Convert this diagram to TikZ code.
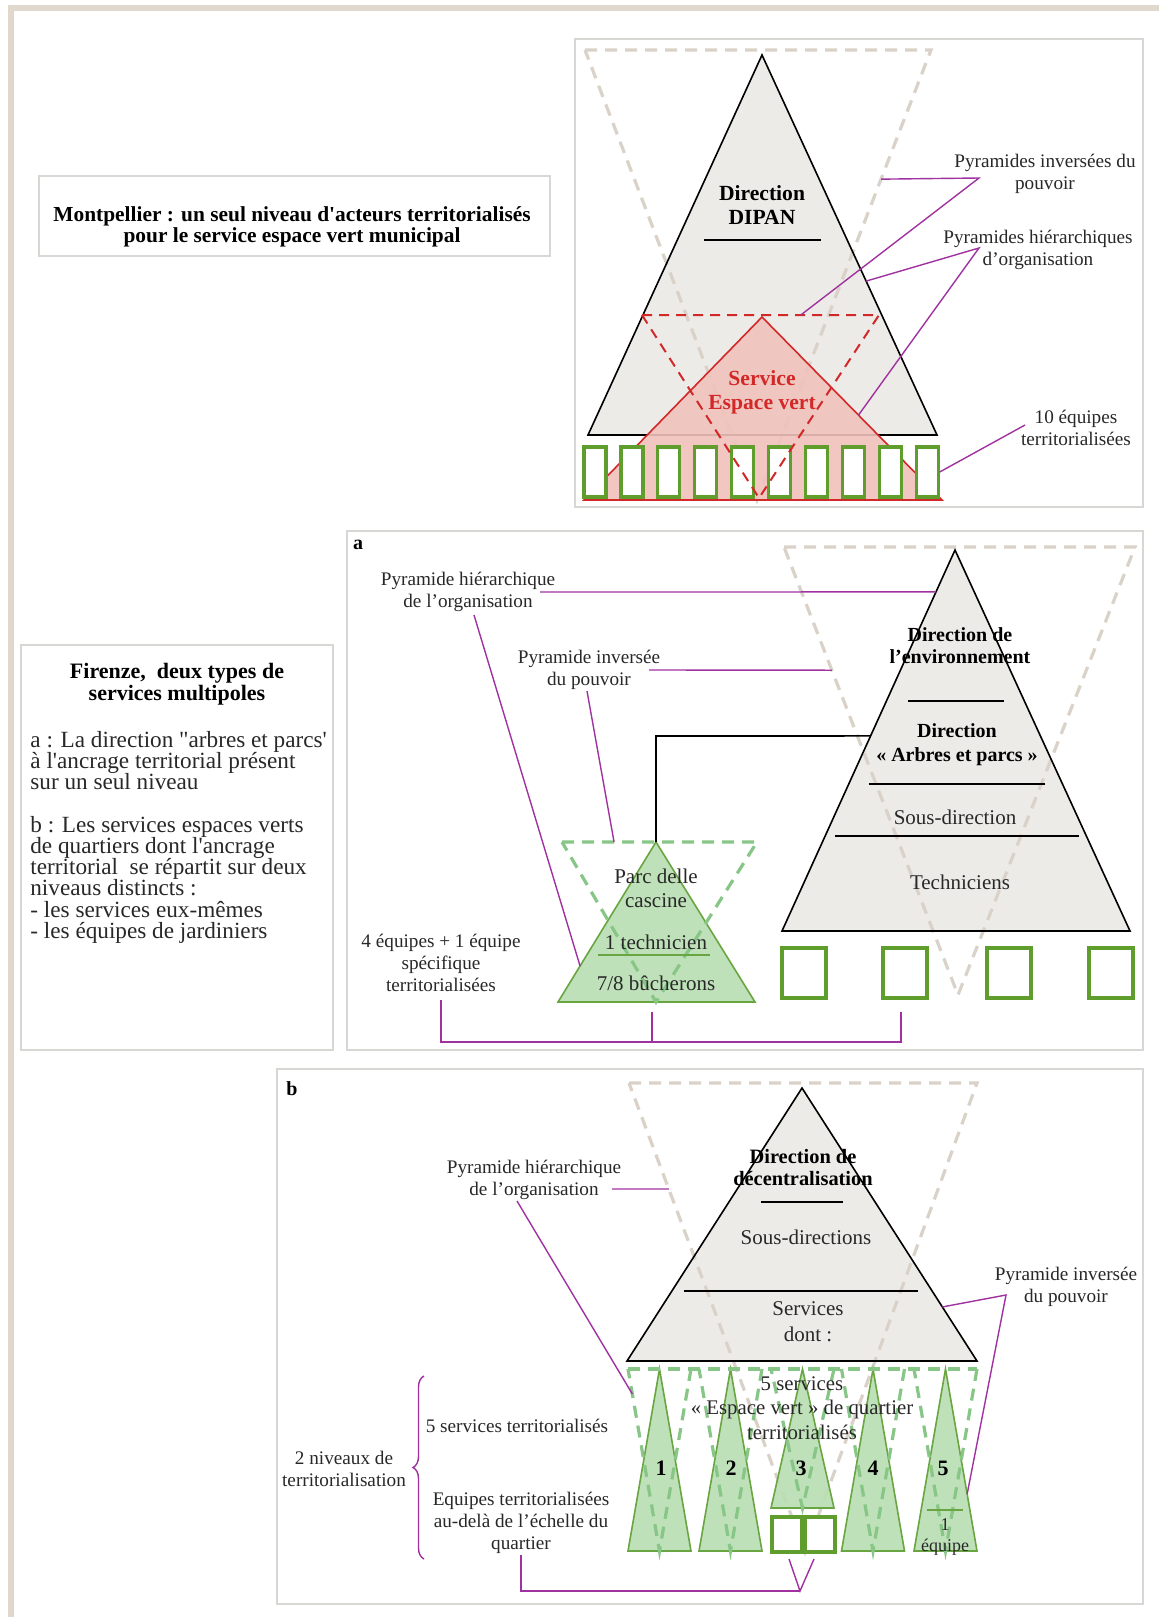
\documentclass[tikz,border=0pt]{standalone}
\usepackage{fontspec}
\setmainfont{Liberation Serif}
\newfontfamily\plainserif{Liberation Serif}
\usetikzlibrary{calc,decorations.pathreplacing}
\definecolor{beige}{RGB}{224,216,205}
\definecolor{boxgray}{RGB}{215,215,212}
\definecolor{dashgray}{RGB}{218,210,200}
\definecolor{pyrfill}{RGB}{237,235,232}
\definecolor{purp}{RGB}{160,50,160}
\definecolor{gstroke}{RGB}{105,165,65}
\definecolor{gfill}{RGB}{185,222,178}
\definecolor{gdash}{RGB}{135,198,135}
\definecolor{gboxc}{RGB}{95,158,45}
\definecolor{redc}{RGB}{210,40,40}
\definecolor{pinkf}{RGB}{241,194,188}
\definecolor{txt}{RGB}{40,40,40}
\setlength{\lineskiplimit}{-10pt}
\begin{document}
\begin{tikzpicture}[x=0.5pt,y=-0.5pt,
  lbl/.style={font=\fontsize{9.6}{11}\selectfont, align=center, inner sep=0pt, text=txt},
  ptxt/.style={font=\fontsize{10.5}{12}\selectfont, align=center, inner sep=0pt, text=txt},
  pbold/.style={font=\bfseries\fontsize{10.5}{12}\selectfont, align=center, inner sep=0pt, text=black},
  panel/.style={draw=boxgray, line width=1pt},
  graydash/.style={draw=dashgray, line width=1.6pt, dash pattern=on 6pt off 4pt},
  greendash/.style={draw=gdash, line width=1.6pt, dash pattern=on 6pt off 4pt},
  reddash/.style={draw=redc, line width=1pt, dash pattern=on 5pt off 3.5pt},
  pyrline/.style={draw=black, line width=0.8pt},
  sepline/.style={draw=black, line width=0.9pt},
  gbx/.style={draw=gboxc, line width=1.6pt, fill=white, inner sep=0pt},
  conn/.style={draw=purp, line width=0.7pt},
  gtri/.style={fill=gfill, fill opacity=0.9, draw=gstroke, line width=0.8pt},
]
\useasboundingbox (0,0) rectangle (1159,1617);
\fill[white] (0,0) rectangle (1159,1617);
\fill[beige] (8,5) rectangle (1159,11);
\fill[beige] (8,5) rectangle (14,1617);

%% ---------------- Panel 1 : Montpellier ----------------
\draw[panel] (575,39) rectangle (1143,507);
\coordinate (aT) at (762,55); \coordinate (aL) at (588,435); \coordinate (aR) at (937,435);
\coordinate (agL) at (585,50); \coordinate (agR) at (931,50); \coordinate (agB) at (757,500);
\fill[pyrfill] (aT)--(aL)--(aR)--cycle;
\draw[graydash] (agL)--(agR)--(agB)--cycle;
\draw[pyrline] (aT)--(aL)--(aR)--cycle;
\draw[sepline] (704,240)--(821,240);
\node[pbold,font=\bfseries\fontsize{10.8}{12}\selectfont] (dipan) at (762,205) {Direction\\DIPAN};
\coordinate (arT) at (762,317); \coordinate (arL) at (584,500); \coordinate (arR) at (942,500);
\fill[pinkf, fill opacity=0.9] (arT)--(arL)--(arR)--cycle;
\draw[redc, line width=0.8pt] (arL)--(arT)--(arR)--cycle;
\foreach \i in {0,...,9}{
  \node[gbx, minimum width=11pt, minimum height=25pt] (mb\i) at ({595+36.9*\i},472) {};
}
\coordinate (ardL) at (642,315); \coordinate (ardR) at (879,315); \coordinate (ardB) at (759,498);
\draw[reddash] (ardL)--(ardR)--(ardB)--cycle;
\node[pbold, text=redc, font=\bfseries\fontsize{10.8}{12}\selectfont] (serv) at (762,392) {Service\\Espace vert};

\node[lbl] (p1inv) at (1045,174) {Pyramides inversées du\\pouvoir};
\coordinate (v1) at (979,178);
\draw[conn] ($(agR)!0.287!(agB)$) -- (v1) -- ($(ardL)!0.67!(ardR)$);
\node[lbl] (p1hier) at (1038,250) {Pyramides hiérarchiques\\d’organisation};
\coordinate (v2) at (979,248);
\draw[conn] ($(aT)!0.595!(aR)$) -- (v2) -- ($(arT)!0.536!(arR)$);
\node[lbl] (p1eq) at (1076,428) {10 équipes\\territorialisées};
\coordinate (v3) at (1025,425);
\draw[conn] (v3) -- (mb9.east);

%% Montpellier title
\draw[panel] (39,176) rectangle (550,256);
\node[font=\plainserif\bfseries\fontsize{10.7}{10.5}\selectfont, align=center, inner sep=0pt] (mtitle) at (292,227)
  {Montpellier : un seul niveau d'acteurs territorialisés\\pour le service espace vert municipal};

%% ---------------- Panel a ----------------
\draw[panel] (347,531) rectangle (1143,1050);
\node[font=\bfseries\fontsize{10}{10}\selectfont, inner sep=0pt] (la) at (358,545) {a};
\coordinate (bT) at (955,550); \coordinate (bL) at (782,931); \coordinate (bR) at (1130,931);
\coordinate (bgL) at (784,547); \coordinate (bgR) at (1135,547); \coordinate (bgB) at (958,995);
\fill[pyrfill] (bT)--(bL)--(bR)--cycle;
\draw[graydash] (bgL)--(bgR)--(bgB)--cycle;
\draw[pyrline] (bT)--(bL)--(bR)--cycle;
\node[pbold, font=\bfseries\fontsize{10}{11}\selectfont] (envdir) at (960,646) {Direction de\\l’environnement};
\draw[sepline] (908,701)--(1004,701);
\node[pbold, font=\bfseries\fontsize{10}{12}\selectfont] (arbdir) at (957,745) {Direction\\« Arbres et parcs »};
\draw[sepline] (869,784)--(1045,784);
\node[ptxt] (sousdir) at (955,817) {Sous-direction};
\draw[sepline] (835,836)--(1079,836);
\node[ptxt] (techs) at (960,882) {Techniciens};
\foreach \x/\n in {804/1,905/2,1009/3,1111/4}{
  \node[gbx, line width=2pt, minimum width=22pt, minimum height=25pt] (ab\n) at (\x,973) {};
}
\coordinate (cT) at (656,842); \coordinate (cL) at (558,1002); \coordinate (cR) at (755,1002);
\coordinate (cdL) at (562,842); \coordinate (cdR) at (757,842); \coordinate (cdB) at (656,1002);
\draw[gtri] (cT)--(cL)--(cR)--cycle;
\draw[greendash] (cdL)--(cdR)--(cdB)--cycle;
\node[ptxt] (parc) at (656,888) {Parc delle\\cascine};
\node[ptxt] (tech1) at (656,942) {1 technicien};
\draw[gstroke, line width=1pt] (598,955)--(710,955);
\node[ptxt] (buch) at (656,983) {7/8 bûcherons};
\coordinate (k1) at (656,736);
\draw[black, line width=0.8pt] (cT) -- (k1) -- ($(bT)!0.488!(bL)$);

\node[lbl] (aHier) at (468,592) {Pyramide hiérarchique\\de l’organisation};
\coordinate (aH1) at (540,592); \coordinate (aH2) at (474,615);
\draw[conn] (aH1) -- ($(bT)!0.11!(bL)$);
\draw[conn] (aH2) -- ($(cT)!0.775!(cL)$);
\node[lbl] (aInv) at (589,670) {Pyramide inversée\\du pouvoir};
\coordinate (aI1) at (649,670); \coordinate (aI2) at (587,691);
\draw[conn] (aI1) -- ($(bgL)!0.275!(bgB)$);
\draw[conn] (aI2) -- ($(cdL)!0.267!(cdR)$);
\node[lbl] (aEq) at (441,963) {4 équipes + 1 équipe\\spécifique\\territorialisées};
\coordinate (br1) at (441,1000); \coordinate (br2) at (652,1012); \coordinate (br3) at (901,1012);
\draw[conn] (br1) -- (441,1042) -- (901,1042) -- (br3);
\draw[conn] (br2) -- (652,1042);

%% Firenze box
\draw[panel] (21,645) rectangle (333,1050);
\node[font=\bfseries\fontsize{11}{11}\selectfont, align=center, inner sep=0pt] (ftitle) at (177,684)
  {Firenze,\ \ deux types de\\services multipoles};
\node[font=\plainserif\fontsize{11.6}{10.6}\selectfont, align=left, anchor=north west, inner sep=0pt, text=txt] (ftext) at (30,731)
  {a : La direction "arbres et parcs'\\à l'ancrage territorial présent\\sur un seul niveau\\[10.6pt]b : Les services espaces verts\\de quartiers dont l'ancrage\\territorial\ \ se répartit sur deux\\niveaus distincts :\\{-} les services eux-mêmes\\{-} les équipes de jardiniers};

%% ---------------- Panel b ----------------
\draw[panel] (277,1069) rectangle (1143,1604);
\node[font=\bfseries\fontsize{10}{10}\selectfont, inner sep=0pt] (lb) at (292,1089) {b};
\coordinate (dT) at (802,1088); \coordinate (dL) at (627,1361); \coordinate (dR) at (977,1361);
\coordinate (dgL) at (629,1083); \coordinate (dgR) at (977,1083); \coordinate (dgB) at (805,1552);
\fill[pyrfill] (dT)--(dL)--(dR)--cycle;
\draw[graydash] (dgL)--(dgR)--(dgB)--cycle;
\draw[pyrline] (dT)--(dL)--(dR)--cycle;
\node[pbold, font=\bfseries\fontsize{10.2}{11}\selectfont] (decdir) at (803,1168) {Direction de\\décentralisation};
\draw[sepline] (761,1202)--(843,1202);
\node[ptxt] (sousdirs) at (806,1237) {Sous-directions};
\draw[sepline] (684,1291)--(918,1291);
\node[ptxt, font=\fontsize{10.5}{13}\selectfont] (servs) at (808,1322) {Services\\dont :};

\foreach \c/\b/\n in {659.5/1551/1,730.5/1551/2,802.5/1508/3,873/1551/4,945.5/1551/5}{
  \coordinate (g\n T) at (\c,1369);
  \coordinate (g\n L) at ({\c-31.5},\b);
  \coordinate (g\n R) at ({\c+31.5},\b);
  \coordinate (g\n dL) at ({\c-31.5},1369);
  \coordinate (g\n dR) at ({\c+31.5},1369);
  \coordinate (g\n dB) at (\c,\b);
  \draw[gtri] (g\n T)--(g\n L)--(g\n R)--cycle;
}
\foreach \n in {1,...,5}{
  \draw[greendash] (g\n dR)--(g\n dB)--(g\n dL);
}
\draw[greendash] (g1dL)--(g5dR);
\node[gbx, minimum width=15pt, minimum height=17.5pt] (q3a) at (787,1534.5) {};
\node[gbx, minimum width=15pt, minimum height=17.5pt] (q3b) at (820,1534.5) {};
\foreach \c/\n in {661/1,731/2,801/3,873/4,943/5}{
  \node[font=\bfseries\fontsize{11}{11}\selectfont, inner sep=0pt] (num\n) at (\c,1468) {\n};
}
\draw[gstroke, line width=1pt] (927,1510)--(963,1510);
\node[font=\fontsize{9}{10}\selectfont, inner sep=0pt, text=txt] (eq1) at (945,1525) {1};
\node[font=\fontsize{9}{10}\selectfont, inner sep=0pt, text=txt] (eq2) at (945,1547) {équipe};
\node[lbl, font=\fontsize{10.4}{12.2}\selectfont] (fivesv) at (802,1408) {5 services\\« Espace vert » de quartier\\territorialisés};

\node[lbl] (bHier) at (534,1180) {Pyramide hiérarchique\\de l’organisation};
\coordinate (bH1) at (612,1189); \coordinate (bH2) at (517,1201);
\draw[conn] (bH1) -- ($(dgL)!0.226!(dgB)$);
\draw[conn] (bH2) -- ($(g1dL)!0.137!(g1dB)$);
\node[lbl] (bInv) at (1066,1287) {Pyramide inversée\\du pouvoir};
\coordinate (v4) at (1006,1295);
\draw[conn] ($(dT)!0.802!(dR)$) -- (v4) -- ($(g5T)!0.687!(g5R)$);
\node[lbl] (b5s) at (517,1426) {5 services territorialisés};
\node[lbl] (bEq) at (521,1523) {Equipes territorialisées\\au-delà de l’échelle du\\quartier};
\node[lbl] (b2n) at (344,1469) {2 niveaux de\\territorialisation};
\draw[conn, decorate, decoration={brace, amplitude=5.5pt}] (424,1559) -- (424,1376);
\coordinate (bb1) at (521,1555); \coordinate (bb2) at (800,1591);
\coordinate (bv1) at (789,1559); \coordinate (bv2) at (814,1559);
\draw[conn] (bb1) -- (521,1591) -- (bb2);
\draw[conn] (bv1) -- (bb2) -- (bv2);
\end{tikzpicture}
\end{document}
